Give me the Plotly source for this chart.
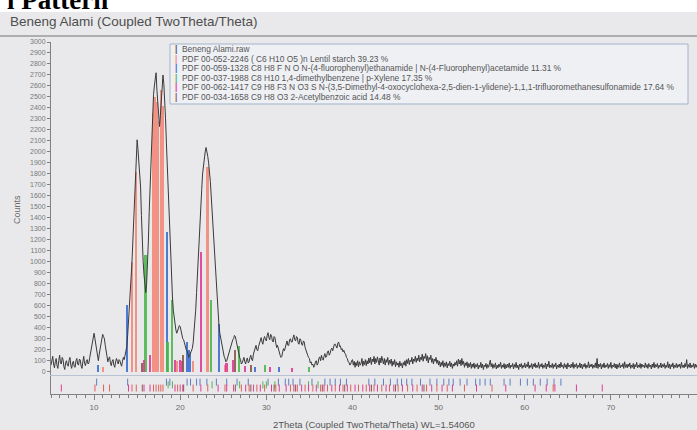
import plotly.graph_objects as go

# ---------------- data ----------------
scan_start = 5.0
scan_step = 0.1
counts = [
    # 5.0-6.9
    60, 110, 140, 70, 35, 90, 120, 55, 30, 100, 150, 80, 70, 130, 110, 45, 20, 85, 100, 60,
    # 7.0-8.9
    50, 105, 130, 60, 30, 80, 95, 45, 40, 100, 120, 70, 60, 115, 105, 50, 30, 90, 140, 75,
    # 9.0-10.9
    55, 95, 110, 70, 80, 130, 170, 210, 260, 320, 350, 300, 250, 170, 120, 100, 160, 210, 250, 310,
    # 11.0-12.9
    340, 320, 300, 240, 180, 120, 90, 120, 135, 80, 55, 95, 110, 60, 40, 90, 120, 95, 70, 110,
    # 13.0-14.9
    100, 70, 50, 95, 130, 110, 160, 190, 230, 330, 440, 580, 730, 860, 1000, 1170, 1330, 1500, 1700, 1880,
    # 15.0-16.9
    2110, 2020, 1900, 1820, 1680, 1420, 1150, 1000, 880, 780, 720, 800, 950, 1180, 1450, 1700, 1950, 2170, 2380, 2520,
    # 17.0-18.9
    2600, 2680, 2720, 2560, 2420, 2300, 2230, 2330, 2450, 2600, 2700, 2620, 2480, 2300, 2080, 1880, 1650, 1400, 1150, 980,
    # 19.0-20.9
    820, 680, 560, 480, 430, 380, 350, 370, 390, 420, 410, 360, 320, 300, 290, 250, 210, 200, 190, 160,
    # 21.0-22.9
    130, 150, 170, 190, 210, 260, 340, 440, 560, 720, 900, 1060, 1230, 1380, 1520, 1660, 1800, 1880, 1940, 2000,
    # 23.0-24.9
    2040, 2010, 1960, 1900, 1840, 1730, 1600, 1470, 1330, 1170, 1000, 860, 720, 600, 500, 420, 350, 300, 260, 220,
    # 25.0-26.9
    180, 140, 120, 90, 100, 130, 160, 190, 220, 250, 270, 290, 300, 330, 320, 280, 240, 190, 150, 130,
    # 27.0-28.9
    110, 70, 80, 120, 130, 90, 70, 110, 125, 80, 90, 130, 150, 110, 100, 160, 190, 220, 240, 200,
    # 29.0-30.9
    190, 230, 260, 300, 310, 270, 250, 300, 320, 290, 280, 330, 355, 310, 290, 340, 330, 280, 270, 320,
    # 31.0-32.9
    310, 260, 220, 240, 200, 170, 150, 130, 140, 180, 210, 190, 230, 260, 280, 240, 240, 290, 300, 270,
    # 33.0-34.9
    270, 310, 335, 290, 280, 320, 310, 260, 250, 300, 290, 250, 240, 280, 270, 220, 190, 170, 150, 130,
    # 35.0-36.9
    120, 80, 90, 60, 70, 40, 55, 90, 100, 60, 75, 120, 135, 100, 150, 120, 105, 140, 165, 130,
    # 37.0-38.9
    140, 180, 190, 150, 165, 200, 215, 190, 230, 250, 250, 220, 215, 260, 270, 230, 235, 200, 210, 180,
    # 39.0-39.9
    195, 170, 160, 130, 120, 90, 85, 60, 70, 100,
    # 40.0-41.9
    110, 60, 95, 40, 85, 55, 100, 45, 90, 60, 75, 120, 50, 95, 65, 110, 55, 100, 70, 125,
    # 42.0-43.9
    80, 130, 65, 115, 90, 140, 70, 120, 85, 135, 100, 60, 125, 80, 140, 95, 70, 120, 60, 110,
    # 44.0-45.9
    85, 130, 60, 105, 75, 115, 50, 95, 65, 110, 45, 90, 60, 80, 40, 95, 55, 75, 35, 85,
    # 46.0-47.9
    60, 100, 50, 110, 75, 120, 65, 105, 90, 130, 70, 115, 95, 140, 85, 125, 100, 150, 90, 130,
    # 48.0-49.9
    110, 160, 95, 140, 120, 165, 100, 145, 80, 130, 110, 150, 85, 120, 70, 115, 95, 130, 75, 105,
    # 50.0-51.9
    60, 95, 45, 85, 55, 100, 40, 80, 50, 90, 35, 75, 55, 95, 45, 80, 30, 70, 50, 85,
    # 52.0-53.9
    60, 100, 50, 115, 70, 105, 55, 120, 65, 95, 40, 80, 55, 90, 35, 75, 45, 85, 30, 70,
    # 54.0-55.9
    40, 80, 30, 65, 45, 75, 25, 60, 40, 85, 35, 70, 20, 60, 45, 75, 30, 65, 40, 70,
    # 56.0-57.9
    105, 45, 75, 30, 65, 40, 80, 25, 60, 35, 70, 45, 85, 30, 60, 40, 75, 25, 65, 35,
    # 58.0-59.9
    70, 40, 80, 30, 60, 45, 75, 25, 65, 40, 85, 35, 60, 20, 70, 45, 75, 30, 60, 40,
    # 60.0-61.9
    80, 35, 65, 45, 90, 30, 60, 40, 75, 25, 70, 45, 80, 35, 60, 40, 85, 30, 65, 45,
    # 62.0-63.9
    75, 30, 60, 40, 80, 25, 70, 45, 95, 35, 60, 40, 75, 30, 65, 45, 80, 25, 60, 40,
    # 64.0-65.9
    70, 35, 85, 45, 60, 30, 75, 40, 65, 25, 80, 45, 60, 35, 70, 40, 85, 30, 65, 45,
    # 66.0-67.9
    75, 30, 60, 40, 80, 35, 70, 25, 65, 45, 75, 30, 60, 40, 90, 35, 65, 45, 70, 30,
    # 68.0-69.9
    60, 40, 80, 35, 120, 30, 70, 45, 75, 25, 65, 40, 80, 35, 60, 45, 75, 30, 65, 40,
    # 70.0-71.9
    85, 30, 60, 45, 75, 35, 70, 25, 65, 40, 80, 35, 60, 45, 75, 30, 90, 40, 65, 35,
    # 72.0-73.9
    70, 45, 80, 30, 60, 40, 75, 25, 65, 45, 85, 35, 60, 40, 75, 30, 70, 45, 60, 35,
    # 74.0-75.9
    80, 40, 65, 30, 75, 45, 60, 25, 70, 40, 85, 35, 65, 45, 75, 30, 60, 40, 80, 35,
    # 76.0-77.9
    65, 45, 75, 30, 60, 40, 90, 35, 70, 25, 65, 45, 80, 30, 60, 40, 75, 35, 65, 45,
    # 78.0-79.9
    70, 30, 85, 40, 60, 35, 75, 45, 110, 30, 65, 40, 80, 35, 60, 45, 75, 30, 70, 40,
    # 80.0
    65,
]
two_theta = [round(scan_start + i * scan_step, 2) for i in range(len(counts))]

# reference patterns: stick positions (2theta) and heights (counts)
starch_x = [11.05, 14.4, 14.9, 16.85, 17.05, 17.3, 17.5, 17.75, 18.0, 19.7, 21.5, 23.2, 25.2]
starch_y = [45, 1000, 1820, 2350, 2500, 2450, 2280, 2560, 2420, 100, 100, 1860, 60]
fluoro_x = [10.5, 13.85, 18.5, 20.8, 21.0, 21.2, 24.55, 28.7, 31.5]
fluoro_y = [60, 610, 1270, 270, 200, 180, 430, 40, 40]
xylene_x = [16.0, 18.55, 19.1, 23.65, 26.9, 29.85, 35.0]
xylene_y = [1060, 270, 655, 655, 230, 60, 40]
sulfon_x = [15.8, 16.5, 19.4, 20.0, 20.2, 22.4, 25.4, 26.2, 27.6, 30.5, 33.0]
sulfon_y = [110, 150, 110, 110, 100, 1090, 80, 110, 50, 40, 30]
acetyl_x = [15.6, 20.4, 26.4, 28.2]
acetyl_y = [80, 150, 200, 60]

# lower stick rows
row_blue = [10.3, 13.9, 18.4, 18.8, 20.8, 21.2, 21.9, 22.3, 23.1, 24.2, 25.4, 26.6, 27.9,
            30.2, 31.4, 32.2, 32.6, 33.1, 33.9, 35.3, 36.8, 37.4, 38.0, 38.6, 39.3, 41.9,
            42.6, 43.6, 44.4, 45.2, 45.7, 46.3, 46.9, 47.9, 49.0, 49.8, 50.6, 51.2, 51.7,
            52.5, 53.3, 54.3, 54.8, 55.4, 56.0, 57.6, 58.3, 59.5, 60.3, 61.0, 61.8, 62.6,
            63.4, 64.2]
row_green = [18.6, 19.1, 23.7, 26.9, 29.6, 30.0, 31.0, 34.9, 36.0]
row_pink = [6.2, 14.0, 15.8, 16.5, 19.4, 20.0, 20.3, 22.4, 24.4, 25.4, 26.2, 27.6, 28.5,
            29.3, 30.6, 31.5, 32.3, 33.2, 34.1, 34.9, 35.8, 36.7, 37.6, 38.5, 39.4, 40.3,
            41.2, 42.0, 42.9, 43.9, 44.8, 45.8, 47.0, 48.1, 49.2, 50.4, 51.6, 54.4, 57.8,
            61.2, 62.5, 63.5, 66.0, 69.0]
row_red = [10.1, 11.1, 11.8, 14.4, 14.9, 16.9, 17.2, 17.5, 17.75, 18.0, 19.7, 21.5, 23.2,
           25.2, 27.1, 28.0, 28.9, 29.8, 31.1, 32.8, 33.6, 34.5, 35.4, 36.3, 37.1, 38.0,
           38.9, 39.8, 40.7, 41.6, 42.5, 43.4, 44.3, 45.3, 46.4, 47.5, 48.6, 49.8, 51.0,
           53.0, 56.2, 63.3]
row_brown = [15.6, 20.4, 26.4, 28.2, 30.9, 33.4, 36.5, 39.1, 42.2, 45.0, 48.3]

y_ticks = list(range(0, 3001, 100))
x_ticks = [10, 20, 30, 40, 50, 60, 70, 80]

legend_names = [
    "Beneng Alami.raw",
    "PDF 00-052-2246 ( C6 H10 O5 )n Lentil starch 39.23 %",
    "PDF 00-059-1328 C8 H8 F N O N-(4-fluorophenyl)ethanamide | N-(4-Fluorophenyl)acetamide 11.31 %",
    "PDF 00-037-1988 C8 H10 1,4-dimethylbenzene | p-Xylene 17.35 %",
    "PDF 00-062-1417 C9 H8 F3 N O3 S N-(3,5-Dimethyl-4-oxocyclohexa-2,5-dien-1-ylidene)-1,1,1-trifluoromethanesulfonamide 17.64 %",
    "PDF 00-034-1658 C9 H8 O3 2-Acetylbenzoic acid 14.48 %",
]

# ---------------- styles ----------------
C_RAW = "#3a3a3a"
C_STARCH = "#f3897a"
C_FLUORO = "#3f6fcf"
C_XYL = "#4cb94c"
C_SULF = "#e03c96"
C_ACET = "#8a5a50"
BG = "#e9e9eb"
FONT = "Liberation Sans, Arial, sans-serif"

W, H = 697, 430
L, R, T, B = 51, 0, 42, 36
PW, PH = W - L - R, H - T - B


def px(xp):
    return (xp - L) / PW


def py(yp):
    return (H - B - yp) / PH


split = py(375)

fig = go.Figure()

bar_sets = [
    (starch_x, starch_y, C_STARCH, legend_names[1]),
    (fluoro_x, fluoro_y, C_FLUORO, legend_names[2]),
    (xylene_x, xylene_y, C_XYL, legend_names[3]),
    (sulfon_x, sulfon_y, C_SULF, legend_names[4]),
    (acetyl_x, acetyl_y, C_ACET, legend_names[5]),
]
for xs, ys, col, nm in bar_sets:
    fig.add_trace(go.Bar(x=xs, y=ys, width=0.19, marker=dict(color=col, line=dict(width=0)),
                         opacity=0.9, name=nm, showlegend=False, xaxis="x2", yaxis="y"))

fig.add_trace(go.Scatter(x=two_theta, y=counts, mode="lines", line=dict(color=C_RAW, width=1),
                         name=legend_names[0], showlegend=False, xaxis="x2", yaxis="y"))

row_sets = [
    (row_blue, 2.0, "#5b7fc0"),
    (row_green, 1.55, C_XYL),
    (row_pink, 1.0, C_SULF),
    (row_red, 1.0, "#e0605a"),
    (row_brown, 1.0, C_ACET),
]
for xs, lvl, col in row_sets:
    fig.add_trace(go.Scatter(x=xs, y=[lvl] * len(xs), mode="markers",
                             marker=dict(symbol="line-ns", size=5, line=dict(color=col, width=1)),
                             showlegend=False, xaxis="x", yaxis="y2", hoverinfo="x"))

axis_font = dict(family=FONT, size=7, color="#7a7a7a")

fig.update_layout(
    width=W, height=H,
    margin=dict(l=L, r=R, t=T, b=B),
    paper_bgcolor=BG, plot_bgcolor=BG,
    barmode="overlay",
    bargap=0,
    showlegend=False,
    xaxis=dict(domain=[0, 1], anchor="y2", range=[5, 80], tickvals=x_ticks,
               ticks="outside", ticklen=5, tickcolor="#808080", showline=True,
               linecolor="#808080", linewidth=1, showgrid=False, zeroline=False,
               tickfont=dict(family=FONT, size=8, color="#6a6a6a"),
               minor=dict(dtick=1, ticks="outside", ticklen=3, tickcolor="#808080")),
    xaxis2=dict(domain=[0, 1], anchor="y", matches="x", showticklabels=False,
                showline=True, linecolor="#b8c4d4", linewidth=1, showgrid=False,
                zeroline=False, ticks=""),
    yaxis=dict(domain=[split, 1], anchor="x2", range=[-30, 3000], tickvals=y_ticks,
               ticktext=[str(v) for v in y_ticks], ticks="outside", ticklen=3,
               tickcolor="#808080", showline=True, linecolor="#808080", linewidth=1,
               showgrid=False, zeroline=False, tickfont=axis_font),
    yaxis2=dict(domain=[0, split], anchor="x", range=[0, 3.2], showticklabels=False,
                ticks="", showline=True, linecolor="#808080", linewidth=1,
                showgrid=False, zeroline=False),
)

annotations = []
annotations.append(dict(text="<b>l Pattern</b>", x=px(110), y=py(17), xref="paper", yref="paper",
                        xanchor="right", yanchor="bottom", showarrow=False,
                        font=dict(family="Liberation Serif, Times New Roman, serif", size=27, color="#000")))
annotations.append(dict(text="Beneng Alami (Coupled TwoTheta/Theta)", x=px(8), y=py(22),
                        xref="paper", yref="paper", xanchor="left", yanchor="middle", showarrow=False,
                        font=dict(family=FONT, size=13.5, color="#4e4e4e")))
annotations.append(dict(text="Counts", x=px(17), y=py(210), xref="paper", yref="paper",
                        textangle=-90, showarrow=False, xanchor="center", yanchor="middle",
                        font=dict(family=FONT, size=9, color="#6a6a6a")))
annotations.append(dict(text="2Theta (Coupled TwoTheta/Theta) WL=1.54060", x=0.5, y=py(424),
                        xref="paper", yref="paper", showarrow=False, xanchor="center", yanchor="middle",
                        font=dict(family=FONT, size=9.5, color="#555")))

legend_colors = ["#555555", C_STARCH, C_FLUORO, C_XYL, C_SULF, C_ACET]
row_y0, row_dy = 49, 9.6
for i, (nm, col) in enumerate(zip(legend_names, legend_colors)):
    annotations.append(dict(text=f"<span style='color:{col}'><b>|</b></span>  {nm}",
                            x=px(173), y=py(row_y0 + i * row_dy), xref="paper", yref="paper",
                            xanchor="left", yanchor="middle", showarrow=False,
                            font=dict(family=FONT, size=8.4, color="#555")))
fig.update_layout(annotations=annotations)

fig.update_layout(shapes=[
    dict(type="rect", xref="paper", yref="paper", x0=px(0), x1=px(W), y0=py(12), y1=py(0),
         fillcolor="#ffffff", line=dict(width=0), layer="below"),
    dict(type="line", xref="paper", yref="paper", x0=px(0), x1=px(W), y0=py(36), y1=py(36),
         line=dict(color="#9a9a9a", width=1.5)),
    dict(type="rect", xref="paper", yref="paper", x0=px(170), x1=px(688), y0=py(104), y1=py(44),
         fillcolor="#eef0f4", line=dict(color="#a3b3ca", width=1), layer="below"),
])

fig.write_html("out.html", config={"displayModeBar": False},
               post_script="document.body.style.margin='0px';")
